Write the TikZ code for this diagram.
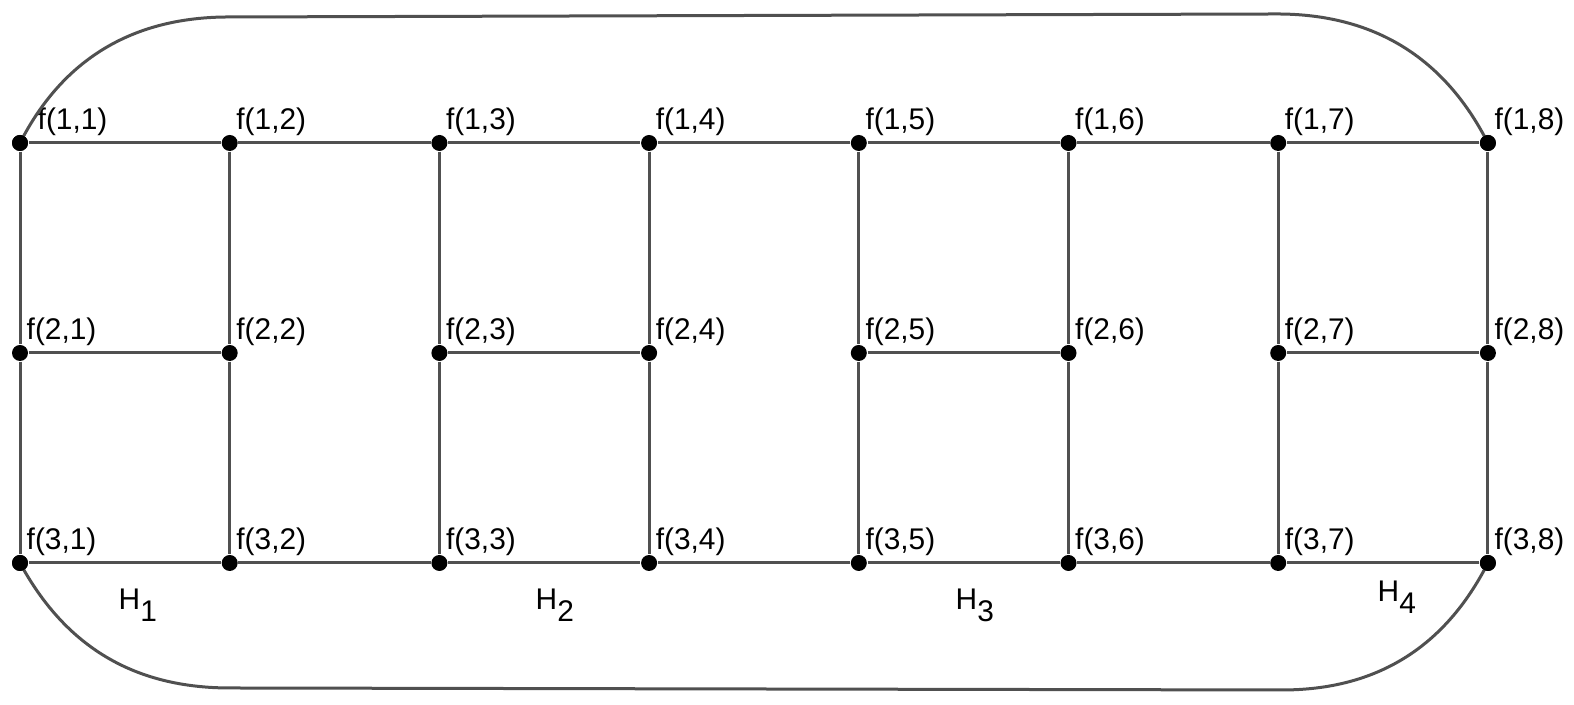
\documentclass[tikz,border=0pt]{standalone}
\usepackage{fontspec}
\setmainfont{Liberation Sans}
\definecolor{lc}{RGB}{80,80,80}
\begin{document}
\begin{tikzpicture}[x=0.1mm,y=0.1mm,
  dot/.style={circle,fill=black,inner sep=0pt,minimum size=1.6mm},
  edge/.style={draw=lc,line width=0.3mm},
  lbl/.style={anchor=base west,inner sep=0pt,font=\fontsize{8.5pt}{10pt}\selectfont},
  hlbl/.style={anchor=base west,inner sep=0pt,font=\fontsize{8.5pt}{10pt}\selectfont}]
\useasboundingbox (0,0) rectangle (1574,705);
% vertices
\foreach \c in {1,...,8}{
  \foreach \r/\y in {1/562,2/352,3/142}{
    \node[dot] (f-\r-\c) at ({20+209.7*(\c-1)},\y) {};
  }
}
% labels
\foreach \c in {1,...,8}{
  \foreach \r in {1,2,3}{
    \ifnum\r\c=11
      \node[lbl] (l-\r-\c) at ([shift={(17,13)}]f-\r-\c.center) {f(\r,\c)};
    \else
      \node[lbl] (l-\r-\c) at ([shift={(6,13)}]f-\r-\c.center) {f(\r,\c)};
    \fi
  }
}
% grid edges
\foreach \c [evaluate=\c as \n using int(\c+1)] in {1,...,7}{
  \draw[edge] (f-1-\c) -- (f-1-\n);
  \draw[edge] (f-3-\c) -- (f-3-\n);
}
\foreach \a/\b in {1/2,3/4,5/6,7/8}{
  \draw[edge] (f-2-\a) -- (f-2-\b);
}
\foreach \c in {1,...,8}{
  \draw[edge] (f-1-\c) -- (f-2-\c);
  \draw[edge] (f-2-\c) -- (f-3-\c);
}
% outer boundary
\coordinate (tl) at (229,688);
\coordinate (tr) at (1277,691);
\coordinate (bl) at (230,17);
\coordinate (br) at (1282,15);
\draw[edge] (f-1-1.center) to[out=63,in=180] (tl) -- (tr) to[out=0,in=117] (f-1-8.center);
\draw[edge] (f-3-1.center) to[out=-61.5,in=180] (bl) -- (br) to[out=0,in=243] (f-3-8.center);
% redraw dots on top
\foreach \c in {1,8}{
  \foreach \r in {1,3}{
    \fill (f-\r-\c.center) circle[radius=0.8mm];
  }
}
% H labels
\node[hlbl] (h1) at (118,95) {H\raisebox{-3.4pt}{1}};
\node[hlbl] (h2) at (535,95) {H\raisebox{-3.4pt}{2}};
\node[hlbl] (h3) at (955,95) {H\raisebox{-3.4pt}{3}};
\node[hlbl] (h4) at (1377,103) {H\raisebox{-3.4pt}{4}};
\end{tikzpicture}
\end{document}
